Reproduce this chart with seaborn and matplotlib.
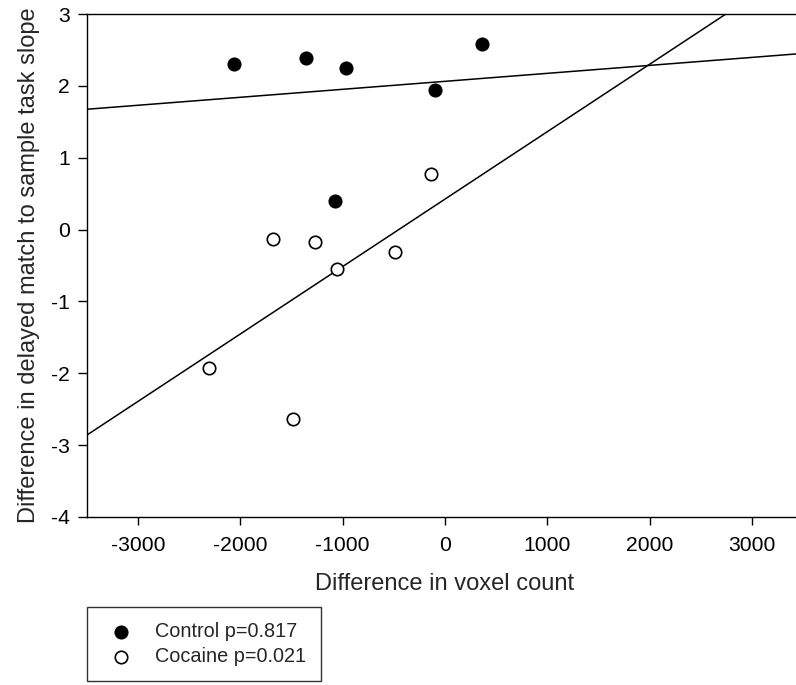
import matplotlib
matplotlib.use("Agg")
import matplotlib.pyplot as plt
import seaborn as sns
import numpy as np
import pandas as pd

# ------------------------------------------------------
# Data
# ------------------------------------------------------
control_x = [-2066, -1359, -968, -102, 362, -1075]
control_y = [2.30, 2.39, 2.25, 1.94, 2.58, 0.40]

cocaine_x = [-1681, -1271, -1056, -489, -137, -2307, -1483]
cocaine_y = [-0.13, -0.17, -0.55, -0.31, 0.78, -1.93, -2.64]

# fitted lines as drawn in the reference: intercept, slope
control_fit = [2.063, 1.11e-4]
cocaine_fit = [0.424, 9.38e-4]

group_labels = ["Control p=0.817", "Cocaine p=0.021"]
x_ticks = [-3000, -2000, -1000, 0, 1000, 2000, 3000]
y_ticks = [-4, -3, -2, -1, 0, 1, 2, 3]

# ------------------------------------------------------
# Style
# ------------------------------------------------------
sns.set_theme(style="ticks")
plt.rcParams["font.family"] = ["Liberation Sans", "DejaVu Sans"]
plt.rcParams["axes.unicode_minus"] = False
plt.rcParams["axes.linewidth"] = 1.0
plt.rcParams["xtick.major.size"] = 5.5
plt.rcParams["ytick.major.size"] = 6.5
plt.rcParams["xtick.major.pad"] = 8
plt.rcParams["ytick.major.pad"] = 6

control_df = pd.DataFrame({"x": control_x, "y": control_y})
cocaine_df = pd.DataFrame({"x": cocaine_x, "y": cocaine_y})

fig = plt.figure(figsize=(7.96, 6.85), dpi=100)
ax = fig.add_axes([87 / 796, 168 / 685, 716 / 796, 503 / 685])

# fitted lines
for fit in [control_fit, cocaine_fit]:
    ax.axline((0, fit[0]), slope=fit[1], color="black", lw=1.1, zorder=1)

sns.scatterplot(
    data=control_df, x="x", y="y", ax=ax, color="black",
    edgecolor="black", s=80, linewidth=1.2, label=group_labels[0], zorder=3,
)
sns.scatterplot(
    data=cocaine_df, x="x", y="y", ax=ax, color="white",
    edgecolor="black", s=80, linewidth=1.2, label=group_labels[1], zorder=3,
)

ax.set_xlim(-3500, 3500)
ax.set_ylim(-4, 3)
ax.set_xticks(x_ticks)
ax.set_yticks(y_ticks)
ax.tick_params(labelsize=15.2, colors="black", width=1.0)
ax.spines["right"].set_visible(False)
for side in ["top", "left", "bottom"]:
    ax.spines[side].set_color("black")

ax.set_xlabel("Difference in voxel count", fontsize=17, labelpad=13)
ax.set_ylabel("Difference in delayed match to sample task slope", fontsize=17, labelpad=8)

handles, labels = ax.get_legend_handles_labels()
ax.get_legend().remove()
leg = fig.legend(
    handles, labels,
    loc="upper left",
    bbox_to_anchor=(87 / 796, 1 - 607 / 685),
    frameon=True, fancybox=False, fontsize=14.3,
    handletextpad=0.75, borderpad=0.75, labelspacing=0.3,
    borderaxespad=0, handlelength=1.9,
)
leg.get_frame().set_edgecolor("black")
leg.get_frame().set_linewidth(1.0)

fig.savefig("out.png", dpi=100)
